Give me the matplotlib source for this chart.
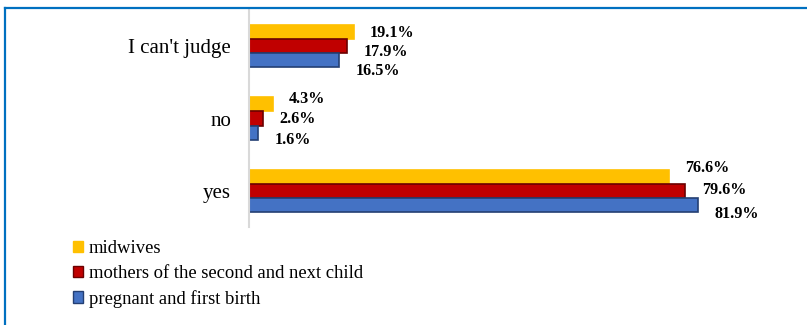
import numpy as np
import matplotlib.pyplot as plt
from matplotlib.lines import Line2D
from matplotlib.patches import Patch

plt.rcParams['font.family'] = ['Liberation Serif', 'DejaVu Serif']

# answers, bottom to top as drawn
categories = ['yes', 'no', "I can't judge"]
midwives = [76.6, 4.3, 19.1]
mothers = [79.6, 2.6, 17.9]
pregnant = [81.9, 1.6, 16.5]

series_names = ['midwives', 'mothers of the second and next child',
                'pregnant and first birth']
fills = ['#FFC000', '#C00000', '#4472C4']
edges = ['#FFC000', '#6B0000', '#243F73']

fig = plt.figure(figsize=(8.07, 3.25), dpi=100)
W, H = 807, 325
# plot area in pixels: left 249, right 797, top 10, bottom 227
ax = fig.add_axes([249 / W, 1 - 227 / H, 548 / W, 217 / H])

y = np.arange(len(categories))
h = 0.195
offsets = [h, 0, -h]
# label nudges (per series, per category) so the labels fan out like the original
label_dy = [[0.12, 0.07, -0.01],
            [0.01, -0.01, -0.08],
            [-0.12, -0.10, -0.15]]
for vals, off, fc, ec, dys in zip([midwives, mothers, pregnant], offsets, fills, edges, label_dy):
    ax.barh(y + off, vals, height=h, color=fc, edgecolor=ec, linewidth=1.2)
    for yi, v, dy in zip(y, vals, dys):
        ax.text(v + 3.0, yi + off + dy, f'{v}%', va='center', ha='left',
                fontsize=11.6, fontweight='bold')

ax.set_xlim(0, 100)
ax.set_ylim(-0.5, 2.5)
ax.set_yticks(y)
ax.set_yticklabels(categories, fontsize=15)
ax.tick_params(axis='y', length=0, pad=13)
ax.set_xticks([])
for s in ['top', 'right', 'bottom']:
    ax.spines[s].set_visible(False)
ax.spines['left'].set_color('#D9D9D9')
ax.spines['left'].set_linewidth(1.5)

handles = [Patch(facecolor=fc, edgecolor=ec) for fc, ec in zip(fills, edges)]
fig.legend(handles, series_names, loc='upper left',
           bbox_to_anchor=(73 / W, 1 - 240 / H), frameon=False,
           fontsize=13.4, handlelength=0.55, handleheight=0.55,
           handletextpad=0.3, labelspacing=0.42, borderaxespad=0,
           borderpad=0)

# blue frame line at top and left
fig.add_artist(Line2D([5 / W, 5 / W], [0, 1 - 8 / H], color='#0070C0', lw=1.6))
fig.add_artist(Line2D([5 / W, 1], [1 - 8 / H, 1 - 8 / H], color='#0070C0', lw=1.6))

fig.savefig('out.png', dpi=100)
